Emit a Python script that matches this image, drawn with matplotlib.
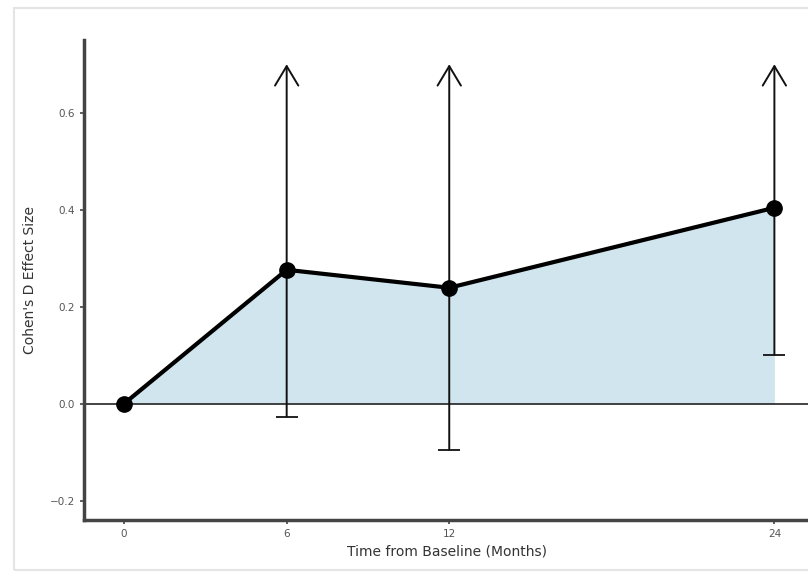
import matplotlib
matplotlib.use("Agg")
import matplotlib.pyplot as plt
from matplotlib.patches import Rectangle

# Effect sizes over time
months = [0, 6, 12, 24]
effect_size = [0.0, 0.276, 0.239, 0.404]
ci_lower = [None, -0.027, -0.095, 0.101]
ci_upper_shown = [None, 0.70, 0.70, 0.70]  # upper bounds run off the top of the panel

x_ticks = [0, 6, 12, 24]
y_ticks = [-0.2, 0.0, 0.2, 0.4, 0.6]

fig = plt.figure(figsize=(8.08, 5.73), dpi=100)
fig.patch.set_facecolor("white")

# light frame around the figure
fig.patches.append(Rectangle((14 / 808, 3 / 573), 1.0, 1 - 11 / 573,
                             transform=fig.transFigure, fill=False,
                             edgecolor="#e4e4e4", lw=1.5, zorder=0))

ax = fig.add_axes([84 / 808, 1 - 520 / 573, 1 - 84 / 808 + 0.002, (520 - 40) / 573])
ax.set_xlim(-1.48, 25.3)
ax.set_ylim(-0.24, 0.75)

# shaded area under the curve
ax.fill_between(months, effect_size, 0, color="#d0e5ee", lw=0, zorder=1)

# reference line at zero
ax.axhline(0, color="#222222", lw=1.2, zorder=2)

# confidence intervals: cap at lower bound, open arrow to upper
for m, lo, hi in zip(months, ci_lower, ci_upper_shown):
    if lo is None:
        continue
    ax.annotate("", xy=(m, hi), xytext=(m, lo),
                arrowprops=dict(arrowstyle="->,head_width=0.3,head_length=0.5",
                                lw=1.4, color="#111111",
                                mutation_scale=28, shrinkA=0, shrinkB=0),
                zorder=3)
    ax.plot([m], [lo], marker="_", markersize=16, mew=1.3, color="#111111", zorder=3)

# effect size trajectory
ax.plot(months, effect_size, color="#000000", lw=3, marker="o", markersize=11,
        zorder=4)

for side in ("top", "right"):
    ax.spines[side].set_visible(False)
for side in ("left", "bottom"):
    ax.spines[side].set_color("#444444")
    ax.spines[side].set_linewidth(2.5)

ax.set_xticks(x_ticks)
ax.set_xticklabels([str(v) for v in x_ticks])
ax.set_yticks(y_ticks)
ax.set_yticklabels([f"{v:.1f}".replace("-", "\u2212") for v in y_ticks])
ax.tick_params(axis="both", colors="#444444", labelcolor="#555555",
               labelsize=7.5, length=3, width=1.2)

ax.set_xlabel("Time from Baseline (Months)", fontsize=10, color="#333333", labelpad=4)
ax.set_ylabel("Cohen's D Effect Size", fontsize=10, color="#333333", labelpad=9)

fig.savefig("out.png", dpi=100, facecolor="white")
